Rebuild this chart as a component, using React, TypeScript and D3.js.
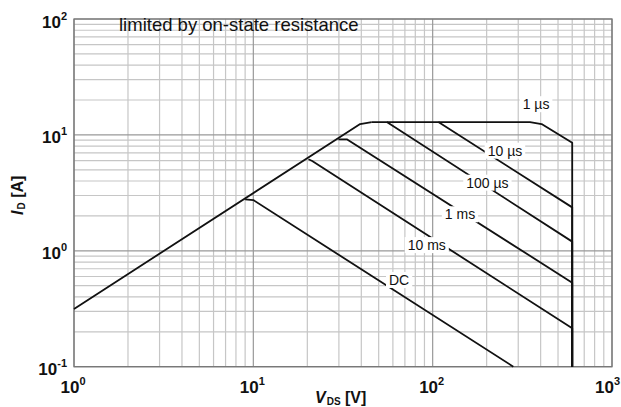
import React, { useEffect, useRef } from 'react';
import * as d3 from 'd3';

type Pt = [number, number];

// axis decades and their exponent labels
const xDecades = [1, 10, 100, 1000];
const xDecadeExp = ['0', '1', '2', '3'];
const yDecades = [0.1, 1, 10, 100];
const yDecadeExp = ['-1', '0', '1', '2'];

// safe operating area curves, [V_DS, I_D]
const ronLimit: Pt[] = [[1, 0.315], [39.4, 12.4], [45.7, 12.9]];
const curve1us: Pt[] = [[45.7, 12.9], [349, 12.9], [405, 12.4], [600, 8.56], [600, 0.1]];
const curve10us: Pt[] = [[107.6, 12.9], [600, 2.37], [600, 0.1]];
const curve100us: Pt[] = [[55.5, 12.9], [600, 1.2], [600, 0.1]];
const curve1ms: Pt[] = [[29.8, 9.16], [33.2, 9.16], [600, 0.531], [600, 0.1]];
const curve10ms: Pt[] = [[20.3, 6.16], [21.3, 5.95], [600, 0.2145], [600, 0.1]];
const curveDC: Pt[] = [[9.0, 2.78], [10.0, 2.74], [281.8, 0.1]];

// curve labels and where they sit (data coords)
const labelNames = ['1 µs', '10 µs', '100 µs', '1 ms', '10 ms', 'DC'];
const labelV = [377, 253, 202, 142, 92.7, 65];
const labelI = [18.4, 7.31, 3.87, 2.065, 1.12, 0.56];

const FONT = '"Liberation Sans", Arial, Helvetica, sans-serif';

const App = () => {
  const svgRef = useRef<SVGSVGElement>(null);

  useEffect(() => {
    const W = 621;
    const H = 407;
    const left = 74, right = 612, top = 19, bottom = 366.7;

    const svg = d3.select(svgRef.current);
    svg.selectAll('*').remove();
    svg.attr('width', W).attr('height', H);

    svg.append('rect').attr('width', W).attr('height', H).attr('fill', '#fff');

    const x = d3.scaleLog().domain([1, 1000]).range([left, right]);
    const y = d3.scaleLog().domain([0.1, 100]).range([bottom, top]);

    const grid = svg.append('g');
    // minor grid (2..9 in every decade)
    x.ticks().filter(t => !xDecades.includes(t)).forEach(t => {
      grid.append('line')
        .attr('x1', x(t)).attr('x2', x(t)).attr('y1', top).attr('y2', bottom)
        .attr('stroke', '#c6c6c6').attr('stroke-width', 1.2);
    });
    y.ticks().filter(t => !yDecades.some(d => Math.abs(d - t) < 1e-9)).forEach(t => {
      grid.append('line')
        .attr('y1', y(t)).attr('y2', y(t)).attr('x1', left).attr('x2', right)
        .attr('stroke', '#c6c6c6').attr('stroke-width', 1.2);
    });
    // major grid
    xDecades.forEach(t => {
      grid.append('line')
        .attr('x1', x(t)).attr('x2', x(t)).attr('y1', top).attr('y2', bottom)
        .attr('stroke', '#999').attr('stroke-width', 1.2);
    });
    yDecades.forEach(t => {
      grid.append('line')
        .attr('y1', y(t)).attr('y2', y(t)).attr('x1', left).attr('x2', right)
        .attr('stroke', '#999').attr('stroke-width', 1.2);
    });
    grid.append('rect')
      .attr('x', left).attr('y', top).attr('width', right - left).attr('height', bottom - top)
      .attr('fill', 'none').attr('stroke', '#777').attr('stroke-width', 1.3);

    // curves
    const line = d3.line<Pt>().x(d => x(d[0])).y(d => y(d[1]));
    const curves = [ronLimit, curve1us, curve10us, curve100us, curve1ms, curve10ms, curveDC];
    svg.append('g').selectAll('path')
      .data(curves)
      .enter().append('path')
      .attr('d', d => line(d))
      .attr('fill', 'none')
      .attr('stroke', '#111')
      .attr('stroke-width', 1.8)
      .attr('stroke-linejoin', 'round');

    // curve labels with white boxes behind
    const lab = svg.append('g');
    labelNames.forEach((name, i) => {
      const g = lab.append('g');
      const t = g.append('text')
        .attr('x', x(labelV[i])).attr('y', y(labelI[i]) + 5)
        .attr('text-anchor', 'middle')
        .attr('font-family', FONT).attr('font-size', 14)
        .attr('fill', '#111')
        .text(name);
      const bb = (t.node() as SVGTextElement).getBBox();
      g.insert('rect', 'text')
        .attr('x', bb.x - 3).attr('y', bb.y)
        .attr('width', bb.width + 6).attr('height', bb.height)
        .attr('fill', '#fff');
    });

    svg.append('text')
      .attr('x', 119).attr('y', 31)
      .attr('font-family', FONT).attr('font-size', 18.5)
      .attr('fill', '#111')
      .text('limited by on-state resistance');

    // tick labels (the last one is kept inside the right edge)
    xDecades.forEach((t, i) => {
      const last = i === xDecades.length - 1;
      const tx = svg.append('text')
        .attr('x', last ? W - 1 : x(t) - 1).attr('y', 393)
        .attr('text-anchor', last ? 'end' : 'middle')
        .attr('font-family', FONT).attr('font-weight', 'bold').attr('font-size', 17)
        .attr('fill', '#111');
      tx.append('tspan').text('10');
      tx.append('tspan').attr('dy', -8).attr('font-size', 11).text(xDecadeExp[i]);
    });
    yDecades.forEach((t, i) => {
      const ty = svg.append('text')
        .attr('x', 67).attr('y', y(t) + 8.5)
        .attr('text-anchor', 'end')
        .attr('font-family', FONT).attr('font-weight', 'bold').attr('font-size', 17)
        .attr('fill', '#111');
      ty.append('tspan').text('10');
      ty.append('tspan').attr('dy', -8).attr('font-size', 11).text(yDecadeExp[i]);
    });

    // axis titles
    const xt = svg.append('text')
      .attr('x', 315).attr('y', 403)
      .attr('font-family', FONT).attr('font-weight', 'bold').attr('font-size', 16)
      .attr('fill', '#111');
    xt.append('tspan').attr('font-style', 'italic').text('V');
    xt.append('tspan').attr('dy', 2).attr('dx', 1).attr('font-size', 10).text('DS');
    xt.append('tspan').attr('dy', -2).text(' [V]');

    const yt = svg.append('text')
      .attr('transform', 'translate(23,215) rotate(-90)')
      .attr('font-family', FONT).attr('font-weight', 'bold').attr('font-size', 16)
      .attr('fill', '#111');
    yt.append('tspan').attr('font-style', 'italic').text('I');
    yt.append('tspan').attr('dy', 2).attr('dx', 1).attr('font-size', 10).text('D');
    yt.append('tspan').attr('dy', -2).text(' [A]');
  }, []);

  return (
    <div style={{ position: 'absolute', left: 0, top: 0 }}>
      <svg ref={svgRef} />
    </div>
  );
};

export default App;
